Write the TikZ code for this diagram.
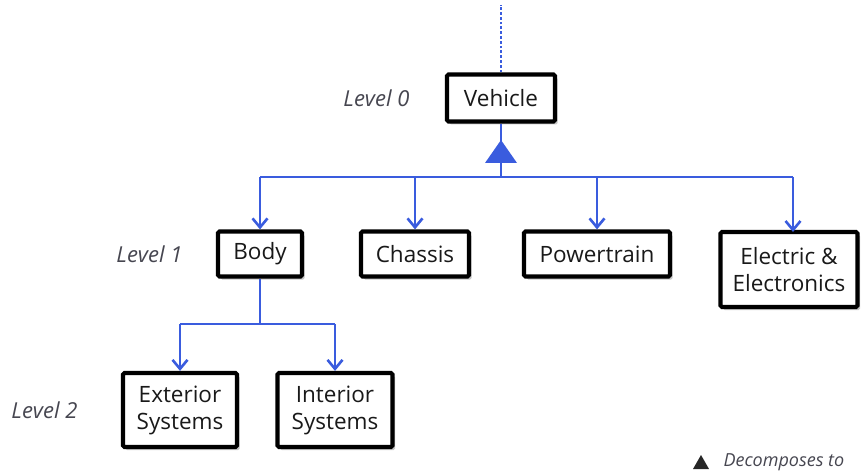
\documentclass[tikz,border=0pt]{standalone}
\usepackage{fontspec}
\setmainfont{Open Sans}
\usetikzlibrary{arrows.meta,shadows}
\definecolor{linkblue}{RGB}{58,92,222}
\definecolor{levelgray}{RGB}{70,70,80}
\tikzset{
  part/.style={draw=black, line width=4.2pt, rounded corners=1.5pt, fill=white,
    align=center, font=\fontsize{22.5}{25}\selectfont, inner sep=0pt, text=black!90,
    drop shadow={shadow xshift=2.5pt, shadow yshift=-3pt, fill=black!40, opacity=0.55}},
  twoline/.style={font=\fontsize{22.5}{27}\selectfont},
  link/.style={draw=linkblue, line width=2.8pt},
  down/.style={link, -{Straight Barb[length=9pt, width=15pt, line width=2.6pt]}},
  level/.style={font=\fontsize{22}{25}\selectfont\itshape, text=levelgray},
  decomp/.style={fill=linkblue, draw=none}
}
\begin{document}
\begin{tikzpicture}[x=1pt, y=1pt]
\useasboundingbox (0,0) rectangle (862,-473);

% level 0
\node[part, minimum width=108pt, minimum height=47pt] (veh) at (501,-98) {Vehicle};
\coordinate (top) at (501,-5);
\draw[link, dotted, line width=2.8pt] (veh.north) -- (top);

% level 1
\node[part, minimum width=84pt, minimum height=45pt] (body) at (260,-254) {Body};
\node[part, minimum width=108pt, minimum height=45pt] (chas) at (415,-254) {Chassis};
\node[part, minimum width=146pt, minimum height=45pt] (pt) at (597,-254) {Powertrain};
\node[part, twoline, minimum width=137pt, minimum height=75pt] (ee) at (789,-269.5) {Electric \&\\Electronics};

% level 2
\node[part, twoline, minimum width=114pt, minimum height=74pt] (ext) at (180,-410) {Exterior\\Systems};
\node[part, twoline, minimum width=115pt, minimum height=74pt] (int) at (335,-410) {Interior\\Systems};

% level labels
\node[level, anchor=east] (l0) at (413,-98) {Level 0};
\node[level, anchor=east] (l1) at (186,-254) {Level 1};
\node[level, anchor=east] (l2) at (81,-410) {Level 2};

% decomposition: Vehicle -> level 1
\coordinate (bus) at (501,-177);
\draw[link] (veh.south) -- (bus);
\draw[decomp] (485,-163) -- (517,-163) -- (501,-140) -- cycle;
\draw[link] (260,-177) -- (793,-177);
\draw[down] (260,-177) -- (body.north);
\draw[down] (chas.north |- bus) -- (chas.north);
\draw[down] (pt.north |- bus) -- (pt.north);
\draw[down] (793,-177) -- (793,-232);

% decomposition: Body -> level 2
\coordinate (bbus) at (260,-324);
\draw[link] (body.south) -- (bbus);
\draw[link] (180,-324) -- (335,-324);
\draw[down] (180,-324) -- (ext.north);
\draw[down] (335,-324) -- (int.north);

% legend
\fill[black!85] (693,-469) -- (709,-469) -- (701,-455) -- cycle;
\node[font=\fontsize{18}{20}\selectfont\itshape, text=levelgray, anchor=west] (leg) at (720,-462) {Decomposes to};
\end{tikzpicture}
\end{document}
